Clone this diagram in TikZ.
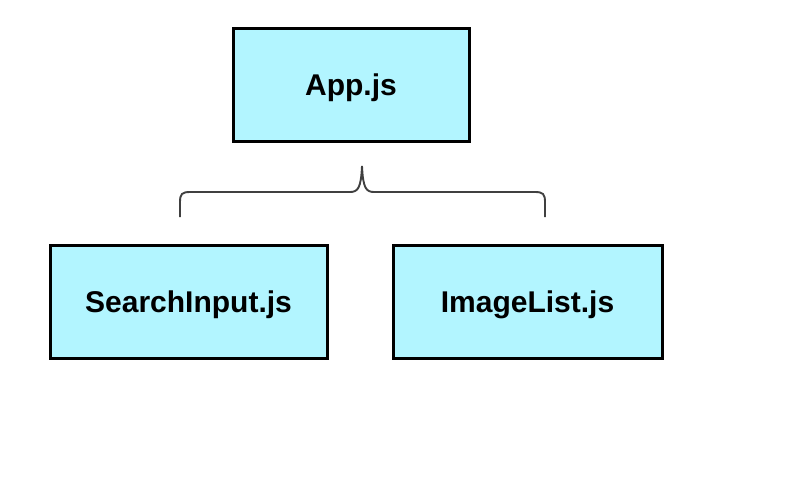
\documentclass[tikz,border=0pt]{standalone}
\usepackage{fontspec}
\setmainfont{Liberation Sans}
\usepackage{tikz}

\definecolor{boxcyan}{RGB}{178,245,255}

\begin{document}
\begin{tikzpicture}[x=1pt, y=-1pt,
    component/.style ={rectangle, draw=black, fill=boxcyan, line width=3pt,
      inner sep=0pt, minimum height=113pt, text depth=0pt,
      font=\fontsize{30}{36}\selectfont\bfseries}]
   \useasboundingbox (0,0) rectangle (789,479);
   \node[component, minimum width=236pt] (app)  at (351,84.5)  {App.js};
   \node[component, minimum width=277pt] (search)  at (188.5,302)  {SearchInput.js};
   \node[component, minimum width=269pt] (imagelist)  at (527.5,302)  {ImageList.js};

   \coordinate (braceL) at (180,217);
   \coordinate (braceR) at (545,217);
   \coordinate (braceTip) at (362,166);

   \draw[line width=1.9pt, color=black!75] (braceL) -- (180,202)
      .. controls (180,194) and (182,192) .. (190,192) -- (350,192)
      .. controls (358,192) and (361,188) .. (braceTip)
      .. controls (363,188) and (366,192) .. (374,192) -- (535,192)
      .. controls (543,192) and (545,194) .. (545,202) -- (braceR);

 \end{tikzpicture}
\end{document}
